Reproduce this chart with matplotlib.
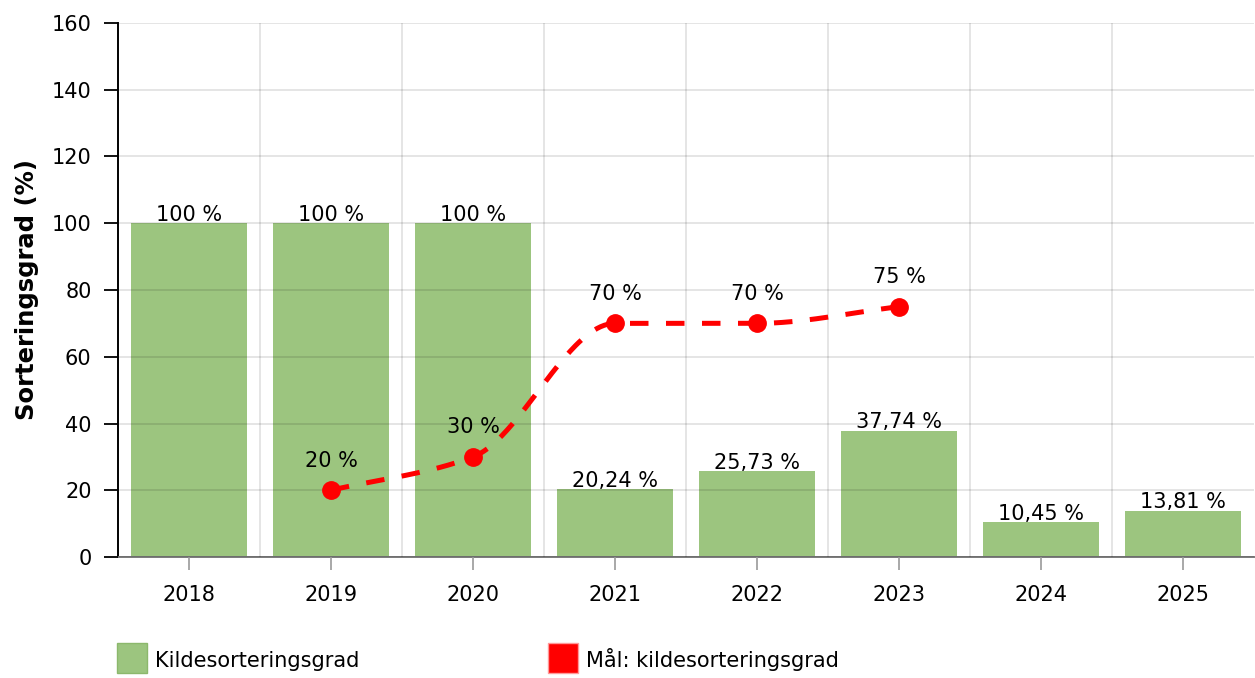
import numpy as np
import matplotlib.pyplot as plt
from matplotlib.patches import Rectangle

W, H = 1255, 678
DPI = 100

years = ['2018', '2019', '2020', '2021', '2022', '2023', '2024', '2025']
actual = [100, 100, 100, 20.24, 25.73, 37.74, 10.45, 13.81]
actual_labels = ['100 %', '100 %', '100 %', '20,24 %', '25,73 %', '37,74 %', '10,45 %', '13,81 %']
target_idx = [1, 2, 3, 4, 5]
target = [20, 30, 70, 70, 75]
target_labels = ['20 %', '30 %', '70 %', '70 %', '75 %']

GREEN = '#9cc57f'
RED = '#ff0000'

plt.rcParams['font.family'] = ['DejaVu Sans']
FS = 15

fig = plt.figure(figsize=(W / DPI, H / DPI), dpi=DPI)
L, R, T, B = 118, 1254, 23, 557
ax = fig.add_axes([L / W, 1 - B / H, (R - L) / W, (B - T) / H])

x = np.arange(len(years))
ax.bar(x, actual, width=0.81, color=GREEN, zorder=1)
for xi, v, lab in zip(x, actual, actual_labels):
    ax.annotate(lab, (xi, v), xytext=(0, -1), textcoords='offset points',
                ha='center', va='bottom', fontsize=FS, color='black', zorder=5)


# monotone (harmonic-mean) cubic through the target points
def smooth(xs, ys, n=80):
    xs = np.asarray(xs, float)
    ys = np.asarray(ys, float)
    h = np.diff(xs)
    s = np.diff(ys) / h
    m = np.zeros_like(ys)
    m[0], m[-1] = s[0], s[-1]
    for i in range(1, len(ys) - 1):
        if s[i - 1] * s[i] > 0:
            m[i] = 2 / (1 / s[i - 1] + 1 / s[i])
    ox, oy = [xs[0]], [ys[0]]
    t = np.linspace(0, 1, n)[1:]
    for i in range(len(h)):
        h00 = 2 * t**3 - 3 * t**2 + 1
        h10 = t**3 - 2 * t**2 + t
        h01 = -2 * t**3 + 3 * t**2
        h11 = t**3 - t**2
        ox.extend(xs[i] + t * h[i])
        oy.extend(h00 * ys[i] + h10 * h[i] * m[i] + h01 * ys[i + 1] + h11 * h[i] * m[i + 1])
    return np.array(ox), np.array(oy)


sx, sy = smooth(target_idx, target)
ax.plot(sx, sy, color=RED, lw=3.6, dashes=(3.7, 3.5), zorder=3, dash_capstyle='butt')
ax.plot(target_idx, target, 'o', color=RED, markersize=12.5, zorder=4)
for xi, v, lab in zip(target_idx, target, target_labels):
    ax.annotate(lab, (xi, v), xytext=(0, 14), textcoords='offset points',
                ha='center', va='bottom', fontsize=FS, color='black', zorder=5)

ax.set_xlim(-0.5, len(years) - 0.5)
ax.set_ylim(0, 160)
ax.set_yticks(np.arange(0, 161, 20))
ax.set_xticks(x)
ax.set_xticklabels(years)
ax.set_xticks(np.arange(0.5, len(years) - 0.5, 1), minor=True)
ax.grid(axis='y', which='major', color='#000000', alpha=0.12, lw=1.2, zorder=2)
ax.grid(axis='x', which='minor', color='#000000', alpha=0.12, lw=1.2, zorder=2)
ax.grid(axis='x', which='major', visible=False)
ax.set_axisbelow(False)
ax.tick_params(axis='x', which='major', length=9, width=1.2, color='#999999',
               labelsize=FS, pad=11)
ax.tick_params(axis='x', which='minor', length=0)
ax.tick_params(axis='y', length=10, width=1.3, color='black', labelsize=FS, pad=9)
for s in ['top', 'right']:
    ax.spines[s].set_visible(False)
ax.spines['left'].set_color('black')
ax.spines['left'].set_linewidth(1.4)
ax.spines['bottom'].set_color('#7a7a7a')
ax.spines['bottom'].set_linewidth(1.4)

fig.text(27 / W, 1 - 290 / H, 'Sorteringsgrad (%)', rotation=90, fontsize=17.5,
         fontweight='bold', ha='center', va='center')


def legend_item(x0, color, edge, text):
    fig.patches.append(Rectangle((x0 / W, 1 - 673 / H), 30 / W, 30 / H,
                                 transform=fig.transFigure, facecolor=color,
                                 edgecolor=edge, lw=1))
    fig.text((x0 + 38) / W, 1 - 667 / H, text, fontsize=FS, va='baseline', ha='left')


legend_item(117, GREEN, '#8cb86c', 'Kildesorteringsgrad')
legend_item(548, RED, '#ff9999', 'Mål: kildesorteringsgrad')

fig.savefig('out.png', dpi=DPI)
